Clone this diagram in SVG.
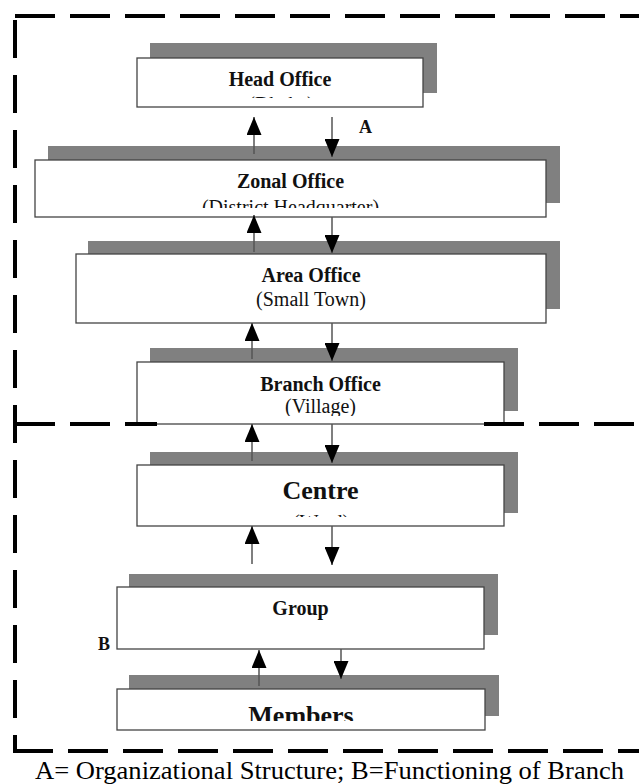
<svg xmlns="http://www.w3.org/2000/svg" width="639" height="784" viewBox="0 0 639 784">
<style>
.sh{fill:#808080}
.bx{fill:#fff;stroke:#444;stroke-width:1.3}
.t{font-family:"Liberation Serif","Times New Roman",serif;font-weight:bold;font-size:20px;fill:#111;text-anchor:middle}
.s{font-family:"Liberation Serif","Times New Roman",serif;font-size:20px;fill:#111;text-anchor:middle}
.big{font-size:26px}
.lbl{font-family:"Liberation Serif","Times New Roman",serif;font-weight:bold;font-size:18px;fill:#111}
.cap{font-family:"Liberation Serif","Times New Roman",serif;font-size:25px;fill:#000}
.ar{stroke:#555;stroke-width:1.5;fill:none;marker-end:url(#ah)}
.dh{stroke:#000;stroke-width:4;fill:none;stroke-dasharray:40 15}
.dv{stroke:#000;stroke-width:4;fill:none;stroke-dasharray:38 17}
</style>
<defs>
<marker id="ah" markerUnits="userSpaceOnUse" markerWidth="18" markerHeight="15" refX="18" refY="7.5" orient="auto">
<path d="M0,0 L18,7.5 L0,15 Z" fill="#000"/>
</marker>
<clipPath id="cHead"><rect x="137" y="58" width="286" height="40"/></clipPath>
<clipPath id="cZonal"><rect x="35" y="160" width="511" height="48"/></clipPath>
<clipPath id="cBranch"><rect x="137" y="362" width="367" height="54"/></clipPath>
<clipPath id="cCentre"><rect x="137" y="465" width="367" height="52"/></clipPath>
<clipPath id="cMembers"><rect x="117" y="689" width="368" height="32"/></clipPath>
</defs>
<rect width="639" height="784" fill="#fff"/>

<g id="head-office">
<rect class="sh" x="150" y="43" width="287" height="50"/>
<rect class="bx" x="137" y="58" width="286" height="49"/>
<g clip-path="url(#cHead)">
<text class="t" x="280" y="86">Head Office</text>
<text class="s" x="281" y="111">(Dhaka)</text>
</g>
</g>

<g id="zonal-office">
<rect class="sh" x="48" y="146" width="512" height="57"/>
<rect class="bx" x="35" y="160" width="511" height="57"/>
<g clip-path="url(#cZonal)">
<text class="t" x="290.5" y="188">Zonal Office</text>
<text class="s" x="290.5" y="214">(District Headquarter)</text>
</g>
</g>

<g id="area-office">
<rect class="sh" x="88" y="241" width="472" height="68"/>
<rect class="bx" x="76" y="254" width="470" height="69"/>
<text class="t" x="311" y="282">Area Office</text>
<text class="s" x="311" y="306">(Small Town)</text>
</g>

<g id="branch-office">
<rect class="sh" x="150" y="348" width="368" height="63"/>
<rect class="bx" x="137" y="362" width="367" height="62"/>
<g clip-path="url(#cBranch)">
<text class="t" x="320.5" y="391">Branch Office</text>
<text class="s" x="320.5" y="413">(Village)</text>
</g>
</g>

<g id="centre">
<rect class="sh" x="150" y="452" width="368" height="61"/>
<rect class="bx" x="137" y="465" width="367" height="61"/>
<g clip-path="url(#cCentre)">
<text class="t big" x="320.5" y="499">Centre</text>
<text class="s" x="321" y="529">(Ward)</text>
</g>
</g>

<g id="group">
<rect class="sh" x="129" y="574" width="369" height="61"/>
<rect class="bx" x="117" y="587" width="367" height="62"/>
<text class="t" x="300.5" y="615">Group</text>
</g>

<g id="members">
<rect class="sh" x="129" y="675" width="370" height="41"/>
<rect class="bx" x="117" y="689" width="368" height="41"/>
<g clip-path="url(#cMembers)">
<text class="t big" x="301" y="724">Members</text>
</g>
</g>

<g id="connectors">
<line class="ar" x1="254" y1="154" x2="254" y2="117"/>
<line class="ar" x1="332" y1="117" x2="332" y2="157"/>
<line class="ar" x1="254" y1="252" x2="254" y2="215"/>
<line class="ar" x1="332" y1="217" x2="332" y2="253"/>
<line class="ar" x1="252" y1="359" x2="252" y2="323"/>
<line class="ar" x1="332" y1="323" x2="332" y2="361"/>
<line class="ar" x1="252" y1="461" x2="252" y2="424"/>
<line class="ar" x1="332" y1="424" x2="332" y2="463"/>
<line class="ar" x1="252" y1="564" x2="252" y2="526"/>
<line class="ar" x1="332" y1="526" x2="332" y2="565"/>
<line class="ar" x1="259" y1="686" x2="259" y2="650"/>
<line class="ar" x1="341" y1="649" x2="341" y2="679"/>
</g>

<g id="labels">
<text class="lbl" x="359" y="133">A</text>
<text class="lbl" x="98" y="650">B</text>
</g>

<g id="frame">
<line class="dh" x1="15" y1="16" x2="639" y2="16"/>
<line class="dv" x1="15" y1="20" x2="15" y2="751"/>
<line class="dh" x1="13" y1="751" x2="639" y2="751"/>
<line class="dh" x1="15" y1="424" x2="157" y2="424"/>
<line class="dh" x1="484" y1="424" x2="639" y2="424"/>
</g>

<text class="cap" x="35" y="779" textLength="589" lengthAdjust="spacingAndGlyphs">A= Organizational Structure; B=Functioning of Branch</text>
</svg>
